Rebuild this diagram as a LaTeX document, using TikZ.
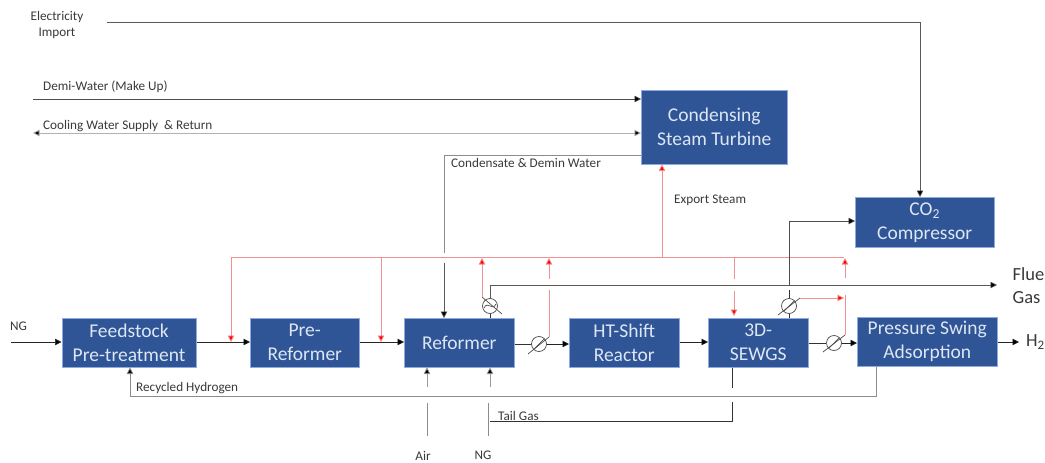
\documentclass[tikz,border=0pt]{standalone}
\usepackage{fontspec}
\setmainfont{Carlito}
\usetikzlibrary{arrows.meta,calc}
\definecolor{boxblue}{HTML}{2F5597}
\definecolor{boxedge}{HTML}{8FAADC}
\definecolor{boxtext}{HTML}{DDE6F3}
\definecolor{labelgray}{HTML}{3A3A3A}
\definecolor{palered}{HTML}{F09090}
\tikzset{
  x=1pt,y=-1pt,
  proc/.style={draw=boxedge,line width=0.5pt,fill=boxblue,text=boxtext,inner sep=0pt,align=center,
    font=\fontsize{19.5}{24}\selectfont},
  lbl/.style={text=labelgray,inner sep=0pt,font=\fontsize{13.2}{16}\selectfont},
  big/.style={text=labelgray,inner sep=0pt,font=\fontsize{18.5}{24}\selectfont},
  flow/.style={draw=black!85,line width=0.7pt,-{Triangle[length=6.5pt,width=6.5pt,fill=black]}},
  plain/.style={draw=black!80,line width=0.7pt},
  soft/.style={draw=black!45,line width=0.7pt},
  softflow/.style={soft,-{Triangle[length=6.5pt,width=6.5pt,fill=black]}},
  steam/.style={draw=palered,line width=0.8pt},
  steamflow/.style={steam,-{Triangle[length=6.5pt,width=6.5pt,fill=red]}},
  hx/.style={circle,draw=black!70,fill=white,line width=0.7pt,minimum size=15pt,inner sep=0pt},
  hxbar/.style={draw=black!70,line width=0.7pt},
}
\newcommand{\proc}[6]{\node[proc,minimum width=#4pt-#2pt,minimum height=#5pt-#3pt,anchor=north west] (#1) at (#2,#3) {#6};}
\begin{document}
\begin{tikzpicture}
\useasboundingbox[fill=white] (0,0) rectangle (1045,463);

% process boxes
\proc{feed}{61.5}{318}{196}{367}{Feedstock\\Pre-treatment}
\proc{pre}{250}{318}{359}{367}{Pre-\\Reformer}
\proc{ref}{404}{318}{514}{367}{Reformer}
\proc{ht}{569}{318}{679}{367}{HT-Shift\\Reactor}
\proc{sew}{708}{317.5}{808}{367}{3D-\\SEWGS}
\proc{psa}{857}{317}{997}{366}{Pressure Swing\\Adsorption}
\proc{co2}{855}{197}{994}{247}{CO\textsubscript{2}\\Compressor}
\proc{tur}{641}{90}{787}{164}{Condensing\\Steam Turbine}

% heat exchangers
\node[hx] (hxa) at (490,306) {};
\node[hx] (hxb) at (539,344) {};
\node[hx] (hxc) at (789,306) {};
\node[hx] (hxd) at (834,343) {};
\coordinate (hxaend) at (482,297);
\coordinate (hxbend) at (549,337);
\coordinate (hxcend) at (800,298);
\coordinate (hxdend) at (845,335);
\draw[hxbar] (hxaend) -- (502,314);
\draw[hxbar] (hxbend) -- (528,354);
\draw[hxbar] (hxcend) -- (778,315);
\draw[hxbar] (hxdend) -- (823,352);
\draw[hxbar] (484,308) .. controls (488,300) and (492,312) .. (496,304);
\draw[hxbar] (534,349) -- (544,339);
\draw[hxbar] (784,311) -- (794,301);
\draw[hxbar] (829,348) -- (839,338);

% free ends and junctions
\coordinate (ngin) at (11,342);
\coordinate (elec) at (107,22);
\coordinate (demi) at (33,99);
\coordinate (cool) at (33,133);
\coordinate (fluetop) at (490,285);
\coordinate (flueend) at (997,285);
\coordinate (h2end) at (1019,342);
\coordinate (rl) at (231,257);
\coordinate (rr) at (844,257);

% steam header (red)
\draw[steamflow] (381,257) -- (381,342);
\draw[steamflow] (rl) -- (231,342);
\draw[steam] (rl) -- (rr);
\draw[steamflow] (662,257) -- (662,164.5);
\draw[steamflow] (hxaend) -- (482,258);
\draw[steam] (hxbend) -- (549,290);
\draw[steamflow] (549,279) -- (549,258);
\draw[steam] (734,257) -- (734,279);
\draw[steamflow] (734,291) -- (734,316);
\draw[steamflow] (hxcend) -- (844,298);
\draw[steam] (hxdend) -- (845,295);
\draw[steamflow] (845,278) -- (845,258);

% main flows
\draw[flow] (ngin) -- (feed.west |- ngin);
\draw[flow] (feed.east |- 0,342) -- (pre.west |- 0,342);
\draw[flow] (pre.east |- 0,342) -- (ref.west |- 0,342);
\draw[plain] (ref.east |- hxb) -- (hxb);
\draw[flow] (hxb) -- (ht.west |- hxb);
\draw[flow] (ht.east |- 0,342) -- (sew.west |- 0,342);
\draw[plain] (sew.east |- hxd) -- (hxd);
\draw[flow] (hxd) -- (psa.west |- hxd);
\draw[flow] (psa.east |- 0,342) -- (h2end);

% utilities at top
\draw[flow,draw=black!65] (elec) -| (920,197);
\draw[flow,draw=black!70] (demi) -- (tur.west |- demi);
\draw[{Triangle[length=6.5pt,width=6.5pt,fill=black]}-{Triangle[length=6.5pt,width=6.5pt,fill=black]},draw=black!30,line width=0.8pt] (cool) -- (tur.west |- cool);

% condensate
\draw[soft] (tur.west |- 0,155) -- (444,155) -- (444,253);
\draw[flow,draw=black!65] (444,263) -- (444,318);

% flue gas and CO2
\draw[plain] (ref.north -| hxa) -- (hxa);
\draw[flow,draw=black!65] (hxa) -- (fluetop) -- (flueend);
\draw[plain] (sew.north -| hxc) -- (hxc);
\draw[plain] (hxc) -- (789,290);
\draw[flow,draw=black!70] (789,285) -- (789,221) -- (co2.west |- 0,221);

% reformer feeds
\draw[soft] (427,403) -- (427,436);
\draw[flow,draw=black!40] (427,387) -- (ref.south -| 427,0);
\draw[soft] (488,403) -- (488,436);
\draw[flow,draw=black!40] (490,387) -- (ref.south -| 490,0);

% hydrogen recycle and tail gas
\draw[softflow] (psa.south -| 876,0) -- (876,396) -- (130,396) -- (feed.south -| 130,0);
\draw[plain] (sew.south -| 732,0) -- (732,388);
\draw[plain] (732,402) -- (732,421.5) -- (490,421.5);

% labels
\node[lbl,align=center] (lelec) at (57,25) {Electricity\\Import};
\node[lbl,anchor=west] (ldemi) at (43,87) {Demi-Water (Make Up)};
\node[lbl,anchor=west] (lcool) at (43,126) {Cooling Water Supply \ \& Return};
\node[lbl,anchor=west] (lcond) at (451,163) {Condensate \& Demin Water};
\node[lbl,anchor=west] (lexp) at (674,200) {Export Steam};
\node[lbl,anchor=west] (lng) at (10,326) {NG};
\node[lbl,anchor=west] (lrec) at (136,388) {Recycled Hydrogen};
\node[lbl,anchor=west] (ltail) at (498,416) {Tail Gas};
\node[lbl] (lair) at (423,455.5) {Air};
\node[lbl] (lng2) at (483,455.5) {NG};
\node[big,anchor=west] (lflue) at (1012.5,274) {Flue};
\node[big,anchor=west] (lgas) at (1012.5,298) {Gas};
\node[big,anchor=west] (lh2) at (1026,342) {H\textsubscript{2}};
\end{tikzpicture}
\end{document}
